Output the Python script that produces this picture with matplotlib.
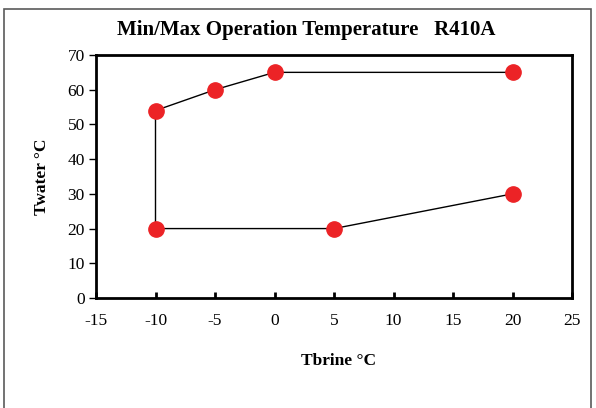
import matplotlib.pyplot as plt
import matplotlib.patches as patches

# Дані: межа робочої зони
tbrine = [20, 5, -10, -10, -5, 0, 20]
twater = [30, 20, 20, 54, 60, 65, 65]

x_ticks = [-15, -10, -5, 0, 5, 10, 15, 20, 25]
y_ticks = [0, 10, 20, 30, 40, 50, 60, 70]

plt.rcParams['font.family'] = ['Liberation Serif', 'DejaVu Serif']

W, H = 596, 408
fig = plt.figure(figsize=(W / 100, H / 100), dpi=100)

# Рамка навколо діаграми
frame = patches.Rectangle((4 / W, -0.05), 587 / W, 1.05 - 9 / H,
                          transform=fig.transFigure, fill=False,
                          edgecolor='#5a5a5a', linewidth=1.2)
fig.patches.append(frame)

left, right, top, bottom = 96, 572, 55, 298
ax = fig.add_axes([left / W, 1 - bottom / H, (right - left) / W, (bottom - top) / H])

ax.plot(tbrine, twater, color='black', linewidth=1, zorder=2)
ax.plot(tbrine, twater, linestyle='none', marker='o', markersize=11,
        markerfacecolor='#ec2326', markeredgecolor='#ec2326', zorder=3, clip_on=False)

ax.set_xlim(-15, 25)
ax.set_ylim(0, 70)
ax.set_xticks(x_ticks)
ax.set_yticks(y_ticks)
ax.set_xticklabels([str(v) for v in x_ticks])
ax.set_yticklabels([str(v) for v in y_ticks])

for s in ax.spines.values():
    s.set_linewidth(2)
ax.tick_params(axis='x', direction='in', length=4, width=2, labelsize=12.5, pad=11)
ax.tick_params(axis='y', direction='out', length=5, width=1, labelsize=12.5, pad=3)

# Підписи
fig.text(306 / W, 1 - 30 / H, 'Min/Max Operation Temperature   R410A',
         fontsize=15, fontweight='bold', ha='center', va='center')
fig.text(339 / W, 1 - 361 / H, 'Tbrine °C', fontsize=12.5, fontweight='bold',
         ha='center', va='center')
fig.text(42 / W, 1 - 177 / H, 'Twater °C', fontsize=12.5, fontweight='bold',
         ha='center', va='center', rotation=90)

fig.savefig('out.png', dpi=100)
